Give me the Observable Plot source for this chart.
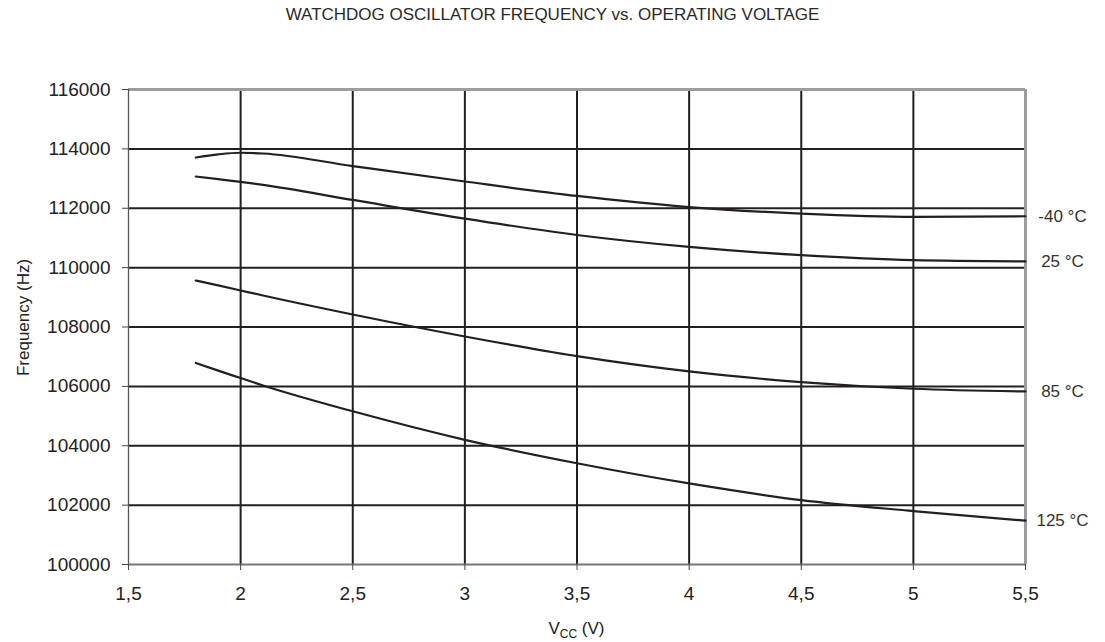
<!DOCTYPE html>
<html>
<head>
<meta charset="utf-8">
<script src="https://cdn.jsdelivr.net/npm/d3@7"></script>
<script src="https://cdn.jsdelivr.net/npm/@observablehq/plot@0.6"></script>
<style>
  html, body { margin: 0; padding: 0; background: #fff; }
  #title { height: 30px; display: flex; align-items: center; justify-content: center;
           font-family: "Liberation Sans", Arial, sans-serif; font-size: 17px; color: #2a2a2a; }
  #chart svg { display: block; }
</style>
</head>
<body>
<div id="title">WATCHDOG OSCILLATOR FREQUENCY vs. OPERATING VOLTAGE</div>
<div id="chart"></div>
<script>
// ---- data ----
const voltages = [1.8, 1.9, 2.0, 2.1, 2.5, 3.0, 3.5, 4.0, 4.5, 5.0, 5.5];
const freqMinus40 = [113710, 113815, 113870, 113845, 113420, 112900, 112415, 112040, 111820, 111710, 111730];
const freq25      = [113070, 112980, 112890, 112790, 112280, 111650, 111100, 110698, 110418, 110250, 110210];
const freq85      = [109565, 109400, 109230, 109060, 108420, 107680, 107020, 106505, 106145, 105920, 105830];
const freq125     = [106790, 106530, 106280, 106030, 105160, 104200, 103410, 102730, 102170, 101800, 101475];
const seriesNames = ["-40 °C", "25 °C", "85 °C", "125 °C"];
const xTicks = [1.5, 2, 2.5, 3, 3.5, 4, 4.5, 5, 5.5];
const yTicks = [100000, 102000, 104000, 106000, 108000, 110000, 112000, 114000, 116000];

const seriesValues = [freqMinus40, freq25, freq85, freq125];
const rows = [];
seriesNames.forEach((name, i) => {
  voltages.forEach((v, j) => rows.push({series: name, v, f: seriesValues[i][j]}));
});
const endLabels = seriesNames.map((name, i) => ({
  series: name, v: voltages[voltages.length - 1], f: seriesValues[i][seriesValues[i].length - 1]
}));

const font = '"Liberation Sans", Arial, sans-serif';
const ink = "#231f20";
const W = 1105, H = 612;
const mL = 128, mR = 80, mT = 59, mB = 78;

const chart = Plot.plot({
  width: W,
  height: H,
  marginLeft: mL,
  marginRight: mR,
  marginTop: mT,
  marginBottom: mB,
  style: {fontFamily: font, color: ink, background: "#fff", overflow: "visible"},
  x: {domain: [1.5, 5.5]},
  y: {domain: [100000, 116000]},
  marks: [
    Plot.ruleX(xTicks.slice(1, -1), {stroke: ink, strokeWidth: 2}),
    Plot.ruleY(yTicks.slice(1, -1), {stroke: ink, strokeWidth: 2}),
    Plot.ruleY([116000], {stroke: "#9d9d9d", strokeWidth: 3}),
    Plot.ruleX([5.5], {stroke: "#9d9d9d", strokeWidth: 3}),
    Plot.ruleX([1.5], {stroke: "#555", strokeWidth: 1.3}),
    Plot.ruleY([100000], {stroke: "#777", strokeWidth: 2}),
    Plot.line(rows, {x: "v", y: "f", z: "series", stroke: ink, strokeWidth: 2.2, curve: "monotone-x"}),
    Plot.text(endLabels, {x: "v", y: "f", text: "series", dx: 37, textAnchor: "middle",
                          fontSize: 17, fill: "#333"}),
    Plot.axisX(xTicks, {
      tickSize: 6, tickPadding: 16, fontSize: 19, stroke: "#444", fill: "#222",
      tickFormat: d => String(d).replace(".", ","), label: null
    }),
    Plot.axisY(yTicks, {
      tickSize: 6, tickPadding: 12, fontSize: 19, stroke: "#444", fill: "#222",
      tickFormat: d => String(d), label: null
    })
  ]
});

const svg = d3.select(chart);
// y-axis title
svg.append("text")
  .attr("transform", `translate(29,${317.5 - 30}) rotate(-90)`)
  .attr("text-anchor", "middle")
  .attr("font-family", font)
  .attr("font-size", 17)
  .attr("fill", "#222")
  .text("Frequency (Hz)");
// x-axis title with subscript
const xt = svg.append("text")
  .attr("x", (mL + (W - mR)) / 2)
  .attr("y", 634 - 30)
  .attr("text-anchor", "middle")
  .attr("font-family", font)
  .attr("font-size", 17)
  .attr("fill", "#222");
xt.append("tspan").text("V");
xt.append("tspan").attr("font-size", 12).attr("dy", 4).text("CC");
xt.append("tspan").attr("dy", -4).text(" (V)");

document.getElementById("chart").appendChild(chart);
</script>
</body>
</html>
